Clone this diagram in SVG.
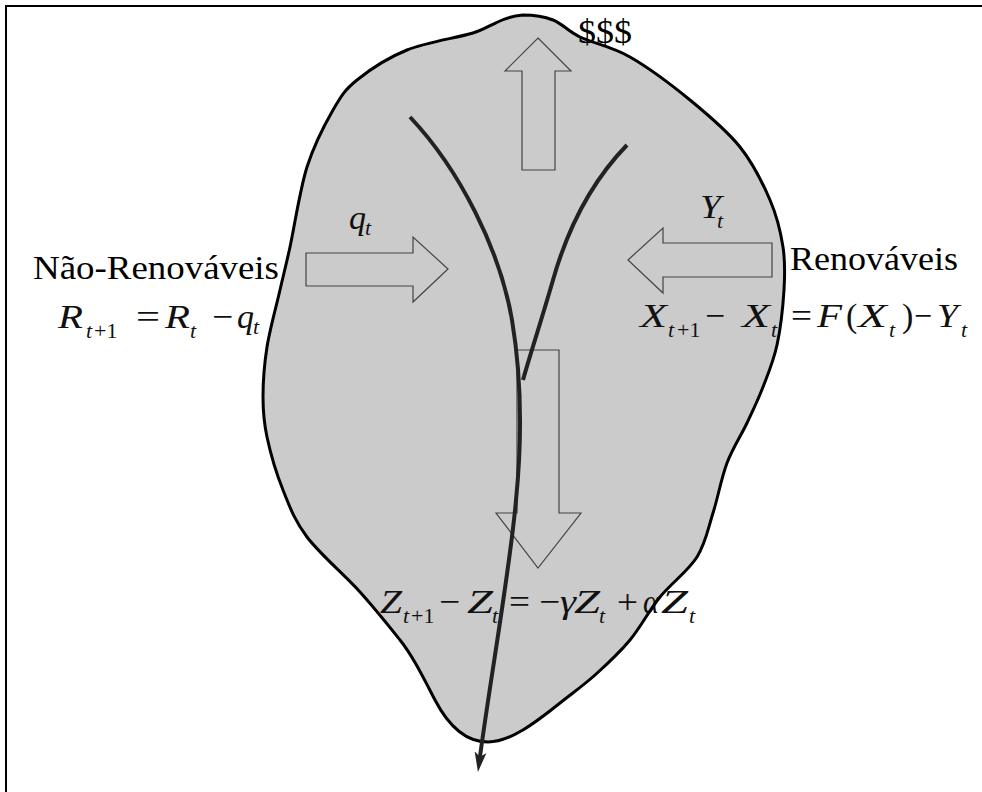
<svg xmlns="http://www.w3.org/2000/svg" xmlns:xlink="http://www.w3.org/1999/xlink" width="982" height="792" viewBox="0 0 982 792">
<style>
.blk{fill:#cbcbcb;stroke:#444;stroke-width:1.2;stroke-linejoin:miter}
.m{fill:#111}
.i{font-style:italic}
.s{font-size:22px}
.flow{fill:none;stroke:#222;stroke-width:4;stroke-linecap:butt}
</style>
<defs>
<path id="blobShape" d="M523,15 C530.7,15 543.5,16.3 553,20 C562.5,23.7 567.2,30.8 580,37 C592.8,43.2 611.7,46.5 630,57 C648.3,67.5 671.7,85 690,100 C708.3,115 726.7,130.3 740,147 C753.3,163.7 762.8,183.3 770,200 C777.2,216.7 780.7,232 783,247 C785.3,262 785,273.7 784,290 C783,306.3 780.5,328.8 777,345 C773.5,361.2 768,374 763,387 C758,400 753,410.3 747,423 C741,435.7 732.7,448 727,463 C721.3,478 718,497.3 713,513 C708,528.7 705.8,543 697,557 C688.2,571 671.2,583.2 660,597 C648.8,610.8 640.8,627 630,640 C619.2,653 606.7,664.5 595,675 C583.3,685.5 570.8,694.3 560,703 C535,723 510,742 488,742 C465,742 448,725 435,700 C422,675 412,655 400,640 C388.3,625.3 375.5,609.2 360,592 C344.5,574.8 319.8,554 307,537 C294.2,520 289.7,506.7 283,490 C276.3,473.3 270.3,452.5 267,437 C263.7,421.5 263,412 263,397 C263,382 264.2,364.8 267,347 C269.8,329.2 276.2,306.7 280,290 C283.8,273.3 285.5,267.5 290,247 C294.5,226.5 299.8,189.8 307,167 C314.2,144.2 324.7,124.5 333,110 C341.3,95.5 344.7,90 357,80 C369.3,70 387.7,57.8 407,50 C426.3,42.2 456.3,38 473,33 C489.7,28 500,17 523,15 Z"/>
<marker id="ah" viewBox="0 0 20 12" refX="12" refY="6" markerWidth="20" markerHeight="12" markerUnits="userSpaceOnUse" orient="auto">
<path d="M0,0 L20,6 L0,12 L5,6 Z" fill="#222"/>
</marker>
</defs>

<g id="frame">
<polyline points="6,792 6,6 982,6" fill="none" stroke="#000" stroke-width="2"/>
</g>

<g id="economy">
<use xlink:href="#blobShape" fill="#cbcbcb" stroke="none"/>
</g>

<g font-family="Liberation Serif, Tinos, Times New Roman, Times, DejaVu Serif, serif" font-size="34" lengthAdjust="spacingAndGlyphs">

<g id="arrow-profit">
<polygon class="blk" points="538,38 571,71 555,71 555,170 522,170 522,71 505,71"/>
<text x="578" y="43" textLength="54" lengthAdjust="spacingAndGlyphs">$$$</text>
</g>

<g id="arrow-nonrenewable">
<polygon class="blk" points="306,253 413,253 413,237 448,269 413,302 413,286 306,286"/>
<text class="m i" x="349" y="229">q</text>
<text class="m i s" x="365" y="235">t</text>
</g>

<g id="arrow-renewable">
<polygon class="blk" points="628,260 663,228 663,243 772,243 772,277 663,277 663,293"/>
<text class="m i" x="700" y="218" textLength="21" lengthAdjust="spacingAndGlyphs">Y</text>
<text class="m i s" x="717" y="228">t</text>
</g>

<g id="arrow-pollution">
<polygon class="blk" points="517,350 559,350 559,513 581,513 538,568 496,513 517,513"/>
</g>

<g id="nonrenewable">
<text x="33" y="279" textLength="246" lengthAdjust="spacingAndGlyphs">Não-Renováveis</text>
<text class="m i" x="58" y="328" textLength="25" lengthAdjust="spacingAndGlyphs">R</text>
<text class="m i s" x="86" y="338">t</text>
<text class="m s" x="94" y="338">+1</text>
<text class="m" x="136" y="328" textLength="24" lengthAdjust="spacingAndGlyphs">=</text>
<text class="m i" x="165" y="328" textLength="25" lengthAdjust="spacingAndGlyphs">R</text>
<text class="m i s" x="190" y="338">t</text>
<text class="m" x="212" y="328" textLength="21" lengthAdjust="spacingAndGlyphs">−</text>
<text class="m i" x="237" y="328">q</text>
<text class="m i s" x="253" y="334">t</text>
</g>

<g id="renewable">
<text x="790" y="270" textLength="168" lengthAdjust="spacingAndGlyphs">Renováveis</text>
<text class="m i" x="640" y="327" textLength="27" lengthAdjust="spacingAndGlyphs">X</text>
<text class="m i s" x="668" y="337">t</text>
<text class="m s" x="677" y="337">+1</text>
<text class="m" x="705" y="327" textLength="20" lengthAdjust="spacingAndGlyphs">−</text>
<text class="m i" x="742" y="327" textLength="28" lengthAdjust="spacingAndGlyphs">X</text>
<text class="m i s" x="771" y="337">t</text>
<text class="m" x="791" y="327" textLength="21" lengthAdjust="spacingAndGlyphs">=</text>
<text class="m i" x="817" y="327" textLength="25" lengthAdjust="spacingAndGlyphs">F</text>
<text class="m" x="846" y="327">(</text>
<text class="m i" x="858" y="327" textLength="29" lengthAdjust="spacingAndGlyphs">X</text>
<text class="m i s" x="889" y="337">t</text>
<text class="m" x="902" y="327">)</text>
<text class="m" x="914" y="327" textLength="18" lengthAdjust="spacingAndGlyphs">−</text>
<text class="m i" x="937" y="327" textLength="21" lengthAdjust="spacingAndGlyphs">Y</text>
<text class="m i s" x="961" y="337">t</text>
</g>

<g id="pollution">
<text class="m i" x="380" y="613" textLength="22" lengthAdjust="spacingAndGlyphs">Z</text>
<text class="m i s" x="403" y="623">t</text>
<text class="m s" x="411" y="623">+1</text>
<text class="m" x="439" y="613" textLength="21" lengthAdjust="spacingAndGlyphs">−</text>
<text class="m i" x="467" y="613" textLength="26" lengthAdjust="spacingAndGlyphs">Z</text>
<text class="m i s" x="492" y="623">t</text>
<text class="m" x="509" y="613" textLength="21" lengthAdjust="spacingAndGlyphs">=</text>
<text class="m" x="539" y="613" textLength="21" lengthAdjust="spacingAndGlyphs">−</text>
<text class="m i" x="560" y="613" textLength="16" lengthAdjust="spacingAndGlyphs">γ</text>
<text class="m i" x="574" y="613" textLength="26" lengthAdjust="spacingAndGlyphs">Z</text>
<text class="m i s" x="599" y="623">t</text>
<text class="m" x="617" y="613" textLength="21" lengthAdjust="spacingAndGlyphs">+</text>
<text class="m i" x="643" y="613" textLength="16" lengthAdjust="spacingAndGlyphs">α</text>
<text class="m i" x="661" y="613" textLength="27" lengthAdjust="spacingAndGlyphs">Z</text>
<text class="m i s" x="689" y="623">t</text>
</g>

</g>

<g id="economy-outline">
<use xlink:href="#blobShape" fill="none" stroke="#000" stroke-width="3"/>
</g>

<g id="connectors">
<path class="flow" d="M410,117 C460,170 500,250 512,320 C522,380 522,440 516,500 C510,570 490,680 479,764" marker-end="url(#ah)"/>
<path class="flow" d="M627,145 C595,178 570,220 553,280 C540,325 530,355 523,380"/>
</g>
</svg>
